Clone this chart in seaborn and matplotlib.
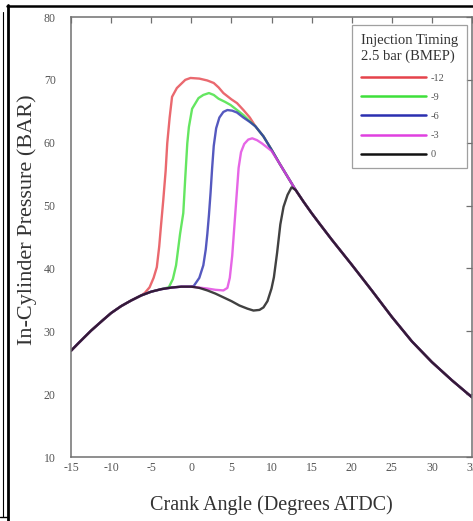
import matplotlib
matplotlib.use("Agg")
import matplotlib.pyplot as plt
from matplotlib.lines import Line2D
import seaborn as sns
import pandas as pd

# ---- data ----
compression_angle = [-15, -14, -12.5, -11, -10, -8.75, -7.5, -6.25, -5, -3.75, -2.5, -1.25,
                     0, 1, 2, 3, 4, 5, 6, 7, 7.75, 8.5, 9.0]
compression_p = [26.9, 28.2, 30.1, 31.8, 32.9, 34.0, 34.9, 35.7, 36.3, 36.7, 36.95, 37.1,
                 37.1, 36.9, 36.5, 36.0, 35.4, 34.8, 34.1, 33.6, 33.3, 33.4, 33.8]

expansion_angle = [8, 9, 10, 11, 12, 13, 14, 15, 16, 17.5, 20, 22.5, 25, 27.5, 30, 32.5, 35]
expansion_p = [62.6, 61.0, 58.9, 56.7, 54.6, 52.5, 50.6, 48.8, 47.1, 44.6, 40.6, 36.5,
               32.3, 28.4, 25.1, 22.2, 19.5]

angle_m12 = [-5.8, -5.2, -4.7, -4.3, -4.0, -3.8, -3.5, -3.2, -3.0, -2.7, -2.4, -1.8, -0.75,
             -0.1, 1.0, 2.0, 2.8, 3.4, 4.0, 5.0, 5.7, 6.5, 7.3]
p_m12 = [36.1, 37.0, 38.5, 40.2, 43.5, 46.5, 50.8, 55.5, 59.9, 64.0, 67.3, 68.7, 70.0,
         70.3, 70.2, 69.9, 69.5, 68.8, 67.9, 66.9, 66.3, 65.2, 64.0]

angle_m9 = [-2.8, -2.3, -1.9, -1.4, -1.0, -0.75, -0.5, -0.3, 0.1, 0.9, 1.5, 2.2, 2.8,
            3.4, 4.2, 4.9, 5.7, 6.5, 7.3]
p_m9 = [37.0, 38.3, 40.5, 45.5, 48.8, 54.5, 59.9, 62.5, 65.4, 67.1, 67.6, 67.9, 67.6,
        67.0, 66.5, 66.0, 65.2, 64.4, 63.4]

angle_m6 = [0.3, 1.0, 1.5, 1.8, 2.0, 2.2, 2.4, 2.6, 2.8, 3.1, 3.5, 4.0, 4.5, 5.1, 5.7,
            6.5, 7.3]
p_m6 = [37.2, 38.5, 40.5, 43.0, 45.5, 48.5, 52.0, 56.0, 59.5, 62.3, 64.0, 64.9, 65.2,
        65.1, 64.8, 64.0, 63.3]

angle_m3 = [1.0, 2.0, 3.0, 4.0, 4.5, 4.8, 5.1, 5.3, 5.5, 5.7, 5.9, 6.2, 6.6, 7.1, 7.6,
            8.2, 8.8, 9.4, 10.0]
p_m3 = [36.95, 36.8, 36.6, 36.5, 36.9, 38.5, 42.0, 45.5, 49.0, 52.5, 56.0, 58.5, 59.8,
        60.5, 60.7, 60.4, 59.9, 59.3, 58.7]

angle_0 = [9.5, 10.0, 10.3, 10.7, 11.1, 11.5, 12.0, 12.5]
p_0 = [34.8, 36.8, 38.6, 42.5, 47.0, 49.8, 51.7, 52.9]

timing_labels = ["-12", "-9", "-6", "-3", "0"]
timing_colors = ["#e5434b", "#3ee03a", "#2b2fb0", "#e040e0", "#111111"]
series = [(angle_m12, p_m12), (angle_m9, p_m9), (angle_m6, p_m6),
          (angle_m3, p_m3), (angle_0, p_0)]

# ---- build the long table ----
rows = []
for lab, (ang, pr) in zip(timing_labels, series):
    xs, ys = [], []
    for a, p in zip(compression_angle, compression_p):
        if a < ang[0]:
            xs.append(a); ys.append(p)
    xs += list(ang); ys += list(pr)
    for a, p in zip(expansion_angle, expansion_p):
        if a > ang[-1]:
            xs.append(a); ys.append(p)
    for a, p in zip(xs, ys):
        rows.append({"angle": a, "pressure": p, "timing": lab})
df = pd.DataFrame(rows)

# ---- style ----
sns.set_style("white")
plt.rcParams["font.family"] = ["Liberation Serif", "DejaVu Serif"]
plt.rcParams["axes.unicode_minus"] = False

fig = plt.figure(figsize=(4.73, 5.21), dpi=100)
ax = fig.add_axes([71 / 473, 1 - 457 / 521, 401 / 473, 440 / 521])

palette = dict(zip(timing_labels, timing_colors))
for lab in timing_labels:
    sub = df[df["timing"] == lab]
    sns.lineplot(data=sub, x="angle", y="pressure", color=palette[lab], lw=1.7,
                 alpha=0.8, estimator=None, sort=False, ax=ax, label=lab)

ax.set_xlim(-15, 35)
ax.set_ylim(10, 80)
ax.set_xticks(range(-15, 36, 5))
ax.set_yticks(range(10, 81, 10))
ax.set_xticklabels([str(v) for v in range(-15, 36, 5)])
ax.set_yticklabels([str(v) for v in range(10, 81, 10)])

spine_col = "#707070"
for s in ax.spines.values():
    s.set_visible(True)
    s.set_color(spine_col)
    s.set_linewidth(1.1)
ax.tick_params(axis="both", direction="in", length=4, width=0.9, color=spine_col,
               top=True, right=True, labelsize=8.5, labelcolor="#555555")
ax.tick_params(axis="y", pad=11)
ax.tick_params(axis="x", pad=3.5)

ax.set_xlabel("Crank Angle (Degrees ATDC)", fontsize=14.5, color="#333333")
ax.set_ylabel("In-Cylinder Pressure (BAR)", fontsize=16, color="#333333")
ax.xaxis.set_label_coords(0.5, -0.088)
ax.yaxis.set_label_coords(-0.085, 0.54)

handles, labels = ax.get_legend_handles_labels()
leg = ax.legend(handles, labels, title="Injection Timing\n2.5 bar (BMEP)",
                loc="upper right", bbox_to_anchor=(467 / 473, 1 - 25 / 521),
                bbox_transform=fig.transFigure, borderaxespad=0, fontsize=7.5,
                title_fontsize=10.5, handlelength=6.2, labelspacing=0.95,
                handletextpad=0.5, borderpad=0.85, fancybox=False, frameon=True,
                alignment="left")
leg.get_frame().set_edgecolor("#888888")
leg.get_frame().set_linewidth(0.9)
for t in leg.get_texts():
    t.set_color("#555555")
leg.get_title().set_color("#333333")
leg.get_title().set_linespacing(1.3)
for h in leg.legend_handles:
    h.set_linewidth(1.8)
    h.set_alpha(1)

# ---- outer frame pieces (cropped figure border) ----
fig.add_artist(Line2D([8 / 473, 8 / 473], [1 - 5 / 521, 0], transform=fig.transFigure,
                      color="black", lw=2.0))
fig.add_artist(Line2D([7 / 473, 1], [1 - 5.5 / 521, 1 - 5.5 / 521],
                      transform=fig.transFigure, color="black", lw=1.8))
fig.add_artist(Line2D([3 / 473, 3 / 473], [1 - 12 / 521, 1 - 517 / 521],
                      transform=fig.transFigure, color="black", lw=0.8))
fig.add_artist(Line2D([0, 8 / 473], [1 - 517 / 521, 1 - 517 / 521],
                      transform=fig.transFigure, color="black", lw=1.0))

fig.savefig("out.png", dpi=100)
